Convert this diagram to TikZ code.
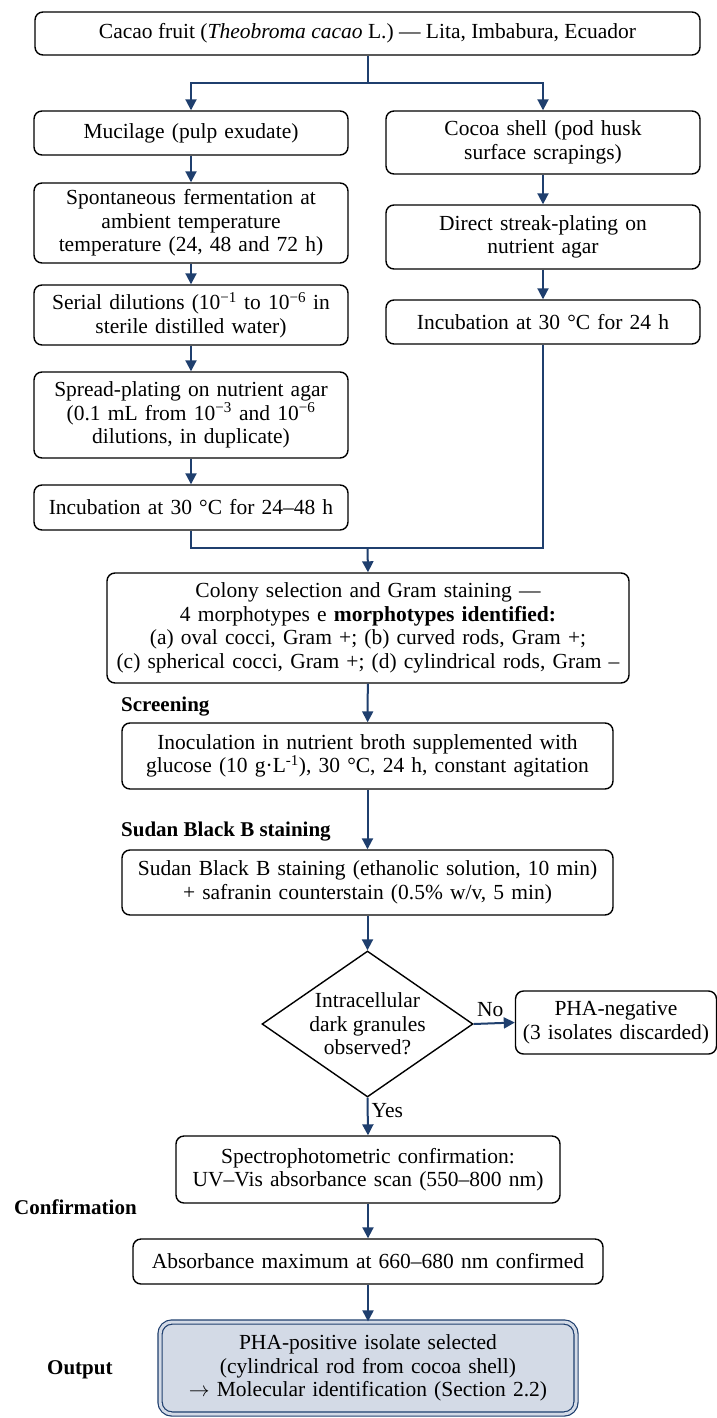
\documentclass[tikz,border=0pt]{standalone}
\usepackage{fontspec}
\setmainfont{Liberation Serif}
\usetikzlibrary{arrows.meta,shapes.geometric,positioning}
\definecolor{navy}{HTML}{1F3F6E}
\definecolor{outfill}{HTML}{D3DAE6}
\begin{document}
\begin{tikzpicture}[x=1pt,y=-1pt,
  every node/.style={font=\fontsize{21.5}{23.5}\selectfont},
  box/.style={draw=black,line width=1.4pt,rounded corners=8pt,align=center,inner sep=2pt},
  flow/.style={draw=navy,line width=2pt,-{Triangle[length=11pt,width=11pt]}},
  line/.style={draw=navy,line width=2pt},
  lab/.style={font=\fontsize{21}{23.5}\selectfont\bfseries,anchor=west,inner sep=0pt},
  small/.style={font=\fontsize{21.5}{23.5}\selectfont,inner sep=1pt}]
\useasboundingbox (0,0) rectangle (717,1418);
\fill[white] (0,0) rectangle (717,1418);

\node[box,minimum width=665pt,minimum height=43pt] (top) at (367.5,33.5) {Cacao fruit (\textit{Theobroma cacao} L.) — Lita, Imbabura, Ecuador};

\node[box,minimum width=314pt,minimum height=44pt,text width=305pt] (muc) at (191,133) {Mucilage (pulp exudate)};
\node[box,minimum width=314pt,minimum height=80pt,text width=305pt] (ferm) at (191,223) {Spontaneous fermentation at\\ambient temperature\\temperature (24, 48 and 72 h)};
\node[box,minimum width=314pt,minimum height=60pt,text width=305pt] (serial) at (191,315) {Serial dilutions (10\textsuperscript{−1} to 10\textsuperscript{−6} in\\sterile distilled water)};
\node[box,minimum width=314pt,minimum height=86pt,text width=305pt] (spread) at (191,415) {Spread-plating on nutrient agar\\(0.1 mL from 10\textsuperscript{−3} and 10\textsuperscript{−6}\\dilutions, in duplicate)};
\node[box,minimum width=314pt,minimum height=45pt,text width=305pt] (inc48) at (191,507.5) {Incubation at 30 °C for 24–48 h};

\node[box,minimum width=314pt,minimum height=63pt,text width=305pt] (shell) at (543,142.5) {Cocoa shell (pod husk\\surface scrapings)};
\node[box,minimum width=314pt,minimum height=64pt,text width=305pt] (streak) at (543,237) {Direct streak-plating on\\nutrient agar};
\node[box,minimum width=314pt,minimum height=44pt,text width=305pt] (inc24) at (543,322) {Incubation at 30 °C for 24 h};

\coordinate (split) at (367.5,83);
\coordinate (merge) at (367.5,548);

\node[box,minimum width=522pt,minimum height=110pt,text width=515pt] (colony) at (368,628) {Colony selection and Gram staining —\\4 morphotypes e \textbf{morphotypes identified:}\\(a) oval cocci, Gram +; (b) curved rods, Gram +;\\(c) spherical cocci, Gram +; (d) cylindrical rods, Gram –};

\node[lab] (screen) at (121,707) {Screening};
\node[box,minimum width=491pt,minimum height=66pt,text width=485pt] (inoc) at (367.5,756) {Inoculation in nutrient broth supplemented with\\glucose (10 g·L\textsuperscript{-1}), 30 °C, 24 h, constant agitation};

\node[lab] (sudanlab) at (121,832) {Sudan Black B staining};
\node[box,minimum width=491pt,minimum height=65pt,text width=485pt] (sudan) at (367.5,882.5) {Sudan Black B staining (ethanolic solution, 10 min)\\+ safranin counterstain (0.5\% w/v, 5 min)};

\node[draw=black,line width=1.4pt,diamond,minimum width=211pt,minimum height=146pt,inner sep=0pt] (dia) at (367.5,1024) {};
\node[align=center,inner sep=0pt] (diatext) at (dia.center) {Intracellular\\dark granules\\observed?};
\node[box,minimum width=199pt,minimum height=63pt,text width=197pt] (neg) at (616,1022.5) {PHA-negative\\(3 isolates discarded)};

\node[box,minimum width=384pt,minimum height=67pt,text width=378pt] (spec) at (368,1169.5) {Spectrophotometric confirmation:\\UV–Vis absorbance scan (550–800 nm)};
\node[lab] (conf) at (14,1207) {Confirmation};

\node[box,minimum width=470pt,minimum height=45pt,text width=464pt] (abs) at (368,1261.5) {Absorbance maximum at 660–680 nm confirmed};

\node[draw=navy,line width=1.2pt,double=outfill,double distance=3pt,fill=outfill,rounded corners=12pt,minimum width=416pt,minimum height=92pt,text width=405pt,align=center,inner sep=2pt] (out) at (368,1368) {PHA-positive isolate selected\\(cylindrical rod from cocoa shell)\\$\rightarrow$ Molecular identification (Section 2.2)};
\node[lab] (outlab) at (47,1370) {Output};

% connectors
\draw[line] (top.south) -- (split);
\draw[flow] (split) -| (muc.north);
\draw[flow] (split) -| (shell.north);
\draw[flow] (muc) -- (ferm);
\draw[flow] (ferm) -- (serial);
\draw[flow] (serial) -- (spread);
\draw[flow] (spread) -- (inc48);
\draw[flow] (shell) -- (streak);
\draw[flow] (streak) -- (inc24);
\draw[line] (inc48.south) |- (merge);
\draw[line] (inc24.south) |- (merge);
\draw[flow] (merge) -- (colony.north);
\draw[flow] (colony) -- (inoc);
\draw[flow] (inoc) -- (sudan);
\draw[flow] (sudan) -- (dia.north);
\draw[flow] (dia.east) -- node[small,above=5pt,pos=0.4] {No} (neg.west);
\draw[flow] (dia.south) -- node[small,right=2pt,pos=0.35] {Yes} (spec.north);
\draw[flow] (spec) -- (abs);
\draw[flow] (abs) -- (out);
\end{tikzpicture}
\end{document}
